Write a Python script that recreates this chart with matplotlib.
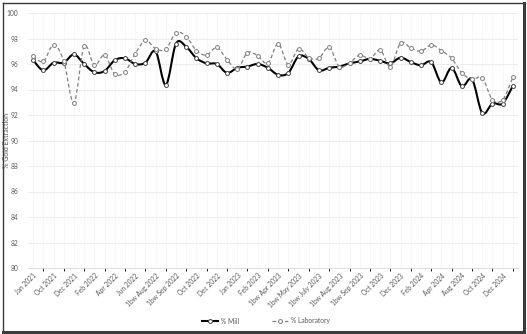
import matplotlib
matplotlib.use("Agg")
import matplotlib.pyplot as plt
from matplotlib.path import Path
from matplotlib.patches import PathPatch
from matplotlib.lines import Line2D
import numpy as np

plt.rcParams['font.family'] = ['Lato', 'DejaVu Sans']

# axis labels shown on every second period
tick_labels = ["Jan 2021", "Oct 2021", "Dec 2021", "Feb 2022", "Apr 2022", "Jun 2022",
               "1bw Aug 2022", "1bw Sep 2022", "Oct 2022", "Dec 2022", "Jan 2023", "Feb 2023",
               "1bw Apr 2023", "1bw May 2023", "1bw July 2023", "1bw Aug 2023", "1bw Sep 2023",
               "Oct 2023", "Dec 2023", "Feb 2024", "Apr 2024", "Aug 2024", "Oct 2024", "Dec 2024"]

mill = [96.3, 95.5, 96.1, 96.1, 96.75, 96.0, 95.35, 95.45, 96.3, 96.45, 96.0, 96.1,
        97.0, 94.35, 97.6, 97.35, 96.45, 96.05, 96.0, 95.3, 95.7, 95.8, 96.0, 95.7,
        95.15, 95.3, 96.6, 96.4, 95.5, 95.7, 95.8, 96.05, 96.2, 96.4, 96.25, 96.05,
        96.5, 96.15, 95.9, 96.15, 94.55, 95.7, 94.25, 94.8, 92.15, 92.9, 92.9, 94.3]

lab = [96.6, 96.2, 97.5, 96.25, 92.95, 97.4, 95.9, 96.7, 95.2, 95.4, 96.8, 97.85,
       97.2, 97.15, 98.45, 98.15, 97.05, 96.7, 97.3, 96.35, 95.6, 96.9, 96.65, 96.05,
       97.6, 95.95, 97.2, 96.5, 96.45, 97.3, 95.8, 96.1, 96.7, 96.4, 97.1, 95.8,
       97.65, 97.25, 97.0, 97.5, 97.05, 96.45, 95.3, 94.8, 94.9, 93.2, 93.2, 94.95]


def smooth_path(x, y):
    # Catmull-Rom style bezier through every point (like a smoothed line chart)
    n = len(x)
    verts = [(x[0], y[0])]
    codes = [Path.MOVETO]
    for i in range(n - 1):
        xa, ya = (x[i - 1], y[i - 1]) if i > 0 else (x[i], y[i])
        xb, yb = (x[i + 2], y[i + 2]) if i + 2 < n else (x[i + 1], y[i + 1])
        c1 = (x[i] + (x[i + 1] - xa) / 6, y[i] + (y[i + 1] - ya) / 6)
        c2 = (x[i + 1] - (xb - x[i]) / 6, y[i + 1] - (yb - y[i]) / 6)
        verts += [c1, c2, (x[i + 1], y[i + 1])]
        codes += [Path.CURVE4] * 3
    return Path(verts, codes)


fig = plt.figure(figsize=(5.27, 3.34), dpi=100)
ax = fig.add_axes([28 / 527, 1 - 268 / 334, 490 / 527, 255 / 334])

x = np.arange(len(mill))

ax.add_patch(PathPatch(smooth_path(x, mill), fill=False, ec="black", lw=1.5, zorder=3))
ax.plot(x, mill, ls="none", marker="o", ms=2.8, mfc="white", mec="#404040", mew=0.7, zorder=4)

ax.add_patch(PathPatch(smooth_path(x, lab), fill=False, ec="#7f7f7f", lw=0.9,
                       ls=(0, (3, 2)), zorder=5))
ax.plot(x, lab, ls="none", marker="o", ms=2.8, mfc="white", mec="#7f7f7f", mew=0.7, zorder=6)

ax.set_xlim(-0.5, 47.5)
ax.set_ylim(80, 100)
ax.set_yticks(np.arange(80, 101, 2))
ax.set_xticks(x[::2])
ax.set_xticklabels(tick_labels, rotation=45, ha="right", rotation_mode="anchor")
ax.set_xticks(x, minor=True)

ax.tick_params(axis="both", length=0, labelsize=4.8, labelcolor="#595959")
ax.tick_params(axis="x", pad=3)
ax.tick_params(axis="y", pad=7)
ax.grid(axis="y", color="#e9e9e9", lw=0.6)
ax.grid(axis="x", which="both", color="#f4f4f4", lw=0.5)
ax.set_axisbelow(True)
for s in ["top", "right", "left"]:
    ax.spines[s].set_visible(False)
ax.spines["bottom"].set_color("#d9d9d9")
ax.spines["bottom"].set_linewidth(0.6)

fig.text(7 / 527, 1 - 140 / 334, "% Gold Extraction", rotation=90, ha="center", va="center",
         fontsize=5, color="#595959")

handles = [Line2D([], [], color="black", lw=1.5, marker="o", ms=2.8, mfc="white", mec="#404040", mew=0.7),
           Line2D([], [], color="#7f7f7f", lw=0.9, ls=(0, (3, 2)), marker="o", ms=2.8, mfc="white",
                  mec="#7f7f7f", mew=0.7)]
fig.legend(handles, ["% Mill", "% Laboratory"], loc="center", bbox_to_anchor=(0.505, 1 - 321 / 334),
           ncol=2, frameon=False, fontsize=4.8, labelcolor="#595959", handlelength=2.4,
           handletextpad=0.4, columnspacing=5.0)

# frame around the chart
fig.add_artist(Line2D([3 / 527, 3 / 527], [1 - 3 / 334, 1 - 332 / 334], color="#3a3a3a", lw=1.0))
fig.add_artist(Line2D([3 / 527, 524 / 527], [1 - 3 / 334, 1 - 3 / 334], color="#3a3a3a", lw=1.0))
fig.add_artist(Line2D([524 / 527, 524 / 527], [1 - 3 / 334, 1 - 332 / 334], color="#3a3a3a", lw=2.2))
fig.add_artist(Line2D([3 / 527, 524 / 527], [1 - 332 / 334, 1 - 332 / 334], color="#3a3a3a", lw=2.2))

fig.savefig("out.png", dpi=100)
